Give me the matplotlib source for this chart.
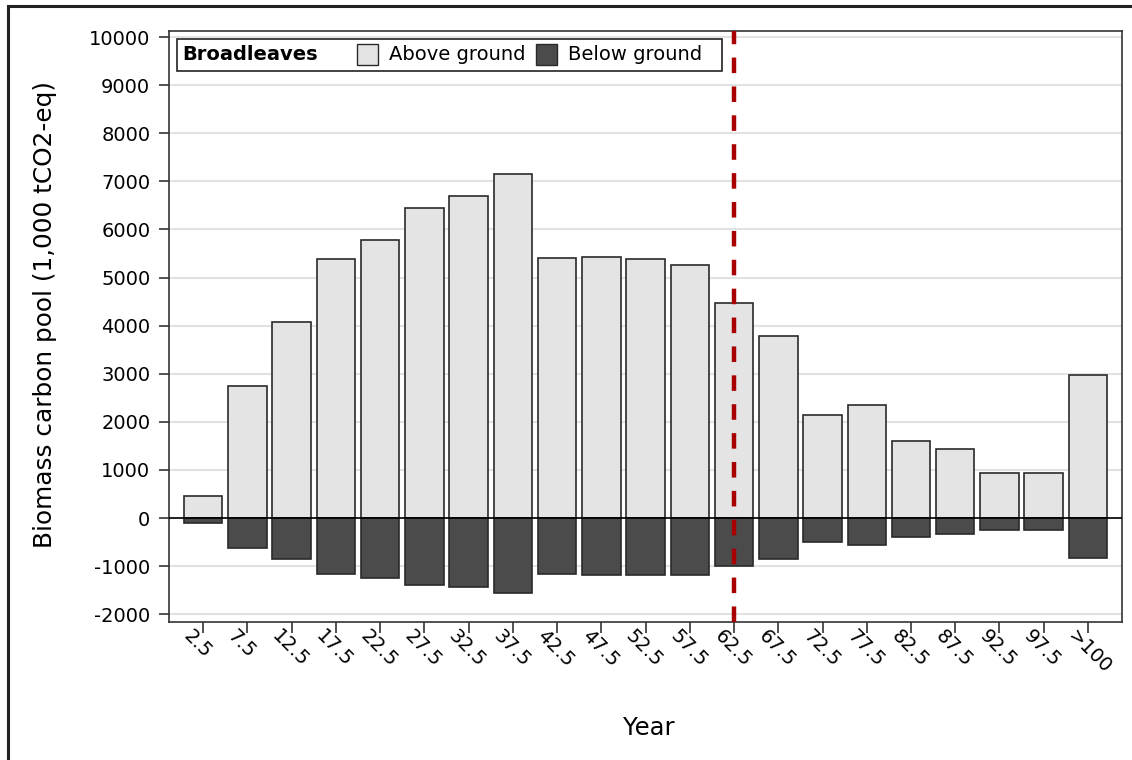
import matplotlib; matplotlib.use('Agg')

import matplotlib.pyplot as plt
import matplotlib.transforms as mtransforms
import numpy as np
from matplotlib.patches import Rectangle
from matplotlib.offsetbox import (AnchoredOffsetbox, HPacker, TextArea,
                                  DrawingArea)

plt.rcParams['font.family'] = ['DejaVu Sans']
plt.rcParams['axes.unicode_minus'] = False

years = ["2.5", "7.5", "12.5", "17.5", "22.5", "27.5", "32.5", "37.5",
         "42.5", "47.5", "52.5", "57.5", "62.5", "67.5", "72.5", "77.5",
         "82.5", "87.5", "92.5", "97.5", ">100"]
above = [465, 2745, 4080, 5390, 5775, 6440, 6690, 7150, 5400, 5430, 5395,
         5265, 4475, 3790, 2140, 2350, 1600, 1435, 945, 945, 2970]
below = [-110, -630, -855, -1165, -1240, -1385, -1435, -1565, -1170, -1180,
         -1185, -1180, -1005, -860, -490, -560, -385, -340, -250, -250, -835]
cutoff = "62.5"

light = "#e4e4e4"
dark = "#4b4b4b"
edge = "#2a2a2a"

fig = plt.figure(figsize=(11.32, 7.6), dpi=100)
ax = fig.add_axes([0.1493, 0.1816, 0.8419, 0.7776])

x = np.arange(len(years))
ax.bar(x, above, width=0.87, color=light, edgecolor=edge, linewidth=1.2, zorder=3)
ax.bar(x, below, width=0.87, color=dark, edgecolor=edge, linewidth=1.2, zorder=3)

ax.axhline(0, color="black", linewidth=1.2, zorder=4)
ax.axvline(years.index(cutoff), color="#a80000", linewidth=3.2,
           linestyle=(0, (3.5, 3)), zorder=5)

ax.set_xlim(-0.77, len(years) - 1 + 0.77)
ax.set_ylim(-2160, 10125)
ax.set_yticks(np.arange(-2000, 10001, 1000))
ax.yaxis.grid(True, color="#e2e2e2", linewidth=1.5, zorder=0)
ax.set_axisbelow(True)

ax.tick_params(axis="x", length=8, width=1.2, color="#333333", pad=-5)
ax.tick_params(axis="y", length=7.5, width=1.2, color="#333333", labelsize=14,
               pad=6)
ax.set_xticks(x)
ax.set_xticklabels(years, rotation=-45, ha="left", va="top",
                   rotation_mode="anchor", fontsize=14)
# nudge the slanted labels a little to the left (after tick_params!)
shift = mtransforms.ScaledTranslation(-10 / 100, 0, fig.dpi_scale_trans)
for lab in ax.get_xticklabels():
    lab.set_transform(lab.get_transform() + shift)

for s in ax.spines.values():
    s.set_color("#333333")
    s.set_linewidth(1.2)

ax.set_ylabel("Biomass carbon pool (1,000 tCO2-eq)", fontsize=17.8)
ax.yaxis.set_label_coords(-0.1175, 0.52)
ax.set_xlabel("Year", fontsize=17.5)
ax.xaxis.set_label_coords(0.503, -0.159)

# legend: bold group name followed by the two patches
def swatch(c):
    da = DrawingArea(15, 15, 0, 0)
    da.add_artist(Rectangle((0, 0), 15, 15, facecolor=c, edgecolor=edge,
                            linewidth=1.0))
    return da

tp = dict(fontsize=14)
box = HPacker(children=[
    TextArea("Broadleaves", textprops=dict(fontsize=14, fontweight="bold")),
    DrawingArea(12, 2, 0, 0),
    swatch(light), TextArea("Above ground", textprops=tp),
    swatch(dark), TextArea("Below ground", textprops=tp),
    DrawingArea(2, 2, 0, 0)],
    align="center", pad=0, sep=8)
leg = AnchoredOffsetbox(loc="upper left", child=box, pad=0.4, borderpad=0.55,
                        frameon=True, bbox_to_anchor=(0, 1),
                        bbox_transform=ax.transAxes)
leg.patch.set_edgecolor("#222222")
leg.patch.set_linewidth(1.2)
leg.set_zorder(6)
ax.add_artist(leg)

# outer frame of the figure
fig.patches.append(Rectangle((8 / 1132, -0.01), 1.1, 1 - 6 / 760 + 0.01,
                             transform=fig.transFigure, fill=False,
                             edgecolor="#222222", linewidth=2.2))

fig.savefig("out.png", dpi=100)
